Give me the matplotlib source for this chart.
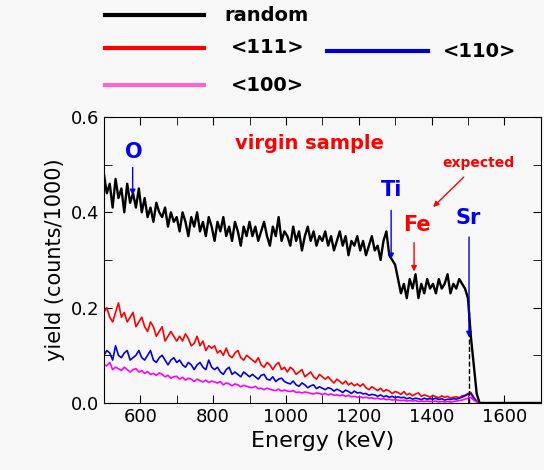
import matplotlib
matplotlib.use('Agg')
import matplotlib.pyplot as plt
from matplotlib.lines import Line2D
from matplotlib.ticker import MultipleLocator, FormatStrFormatter
import numpy as np

# energy channels (keV), 8 keV apart
energy = np.arange(500, 1701, 8)

random_y = [0.48, 0.44, 0.46, 0.41, 0.47, 0.43, 0.45, 0.40, 0.46, 0.42, 0.44, 0.41, 0.45,
            0.40, 0.43, 0.39, 0.41, 0.38, 0.42, 0.40, 0.39, 0.41, 0.37, 0.40, 0.38, 0.39,
            0.36, 0.40, 0.38, 0.35, 0.39, 0.37, 0.40, 0.36, 0.38, 0.35, 0.39, 0.37,
            0.34, 0.38, 0.36, 0.39, 0.35, 0.37, 0.34, 0.38, 0.36, 0.33, 0.37, 0.35, 0.38,
            0.35, 0.37, 0.34, 0.36, 0.38, 0.35, 0.33, 0.37, 0.35, 0.39, 0.34, 0.36,
            0.35, 0.33, 0.37, 0.34, 0.36, 0.32, 0.35, 0.37, 0.34, 0.36, 0.33, 0.35, 0.34,
            0.36, 0.33, 0.35, 0.32, 0.34, 0.36, 0.33, 0.35, 0.31, 0.34, 0.33, 0.35,
            0.32, 0.34, 0.31, 0.33, 0.35, 0.32, 0.33, 0.30, 0.34, 0.36, 0.31, 0.30, 0.29,
            0.26, 0.23, 0.25, 0.22, 0.26, 0.24, 0.27, 0.22, 0.25, 0.23, 0.26, 0.24,
            0.25, 0.23, 0.26, 0.24, 0.25, 0.27, 0.23, 0.25, 0.24, 0.26, 0.25, 0.24, 0.22,
            0.14, 0.08, 0.02, 0.0] + [0.0] * 21

ch111 = [0.19, 0.20, 0.18, 0.17, 0.19, 0.21, 0.18, 0.19, 0.17, 0.18, 0.19, 0.16, 0.17,
         0.18, 0.16, 0.15, 0.17, 0.16, 0.14, 0.15, 0.16, 0.13, 0.14, 0.15, 0.14, 0.13,
         0.14, 0.13, 0.145, 0.135, 0.12, 0.125, 0.14, 0.12, 0.13, 0.11, 0.12, 0.115,
         0.12, 0.105, 0.11, 0.10, 0.115, 0.10, 0.095, 0.105, 0.11, 0.095, 0.09, 0.10, 0.095,
         0.09, 0.085, 0.095, 0.08, 0.075, 0.085, 0.08, 0.07, 0.08, 0.085, 0.07, 0.075,
         0.065, 0.075, 0.07, 0.06, 0.065, 0.07, 0.055, 0.06, 0.065, 0.055, 0.05, 0.06, 0.055,
         0.05, 0.055, 0.048, 0.042, 0.05, 0.045, 0.04, 0.046, 0.038, 0.042, 0.036, 0.04,
         0.035, 0.04, 0.032, 0.028, 0.034, 0.03, 0.026, 0.031, 0.024, 0.028, 0.025, 0.02, 0.024,
         0.022, 0.018, 0.024, 0.017, 0.02, 0.015, 0.019, 0.021, 0.014, 0.017, 0.015, 0.012,
         0.016, 0.013, 0.011, 0.015, 0.012, 0.014, 0.01, 0.012, 0.013, 0.011, 0.015, 0.016, 0.02,
         0.022, 0.012, 0.004, 0.0] + [0.0] * 21

ch110 = [0.10, 0.11, 0.105, 0.09, 0.12, 0.10, 0.095, 0.105, 0.11, 0.09, 0.095, 0.10, 0.11,
         0.095, 0.09, 0.10, 0.11, 0.09, 0.085, 0.095, 0.10, 0.09, 0.08, 0.09, 0.095, 0.085,
         0.09, 0.08, 0.075, 0.085, 0.08, 0.07, 0.08, 0.085, 0.075, 0.07, 0.09, 0.075,
         0.07, 0.075, 0.065, 0.06, 0.07, 0.075, 0.06, 0.065, 0.06, 0.055, 0.065, 0.06, 0.055,
         0.06, 0.055, 0.05, 0.058, 0.06, 0.05, 0.048, 0.055, 0.045, 0.05, 0.052, 0.045,
         0.042, 0.04, 0.046, 0.038, 0.035, 0.042, 0.038, 0.032, 0.036, 0.038, 0.03, 0.034, 0.031,
         0.028, 0.032, 0.03, 0.025, 0.029, 0.026, 0.022, 0.027, 0.024, 0.02, 0.025, 0.021,
         0.022, 0.019, 0.02, 0.016, 0.018, 0.017, 0.014, 0.017, 0.013, 0.015, 0.012, 0.014, 0.011,
         0.013, 0.011, 0.012, 0.009, 0.011, 0.008, 0.01, 0.009, 0.007, 0.01, 0.008, 0.009,
         0.008, 0.01, 0.007, 0.009, 0.006, 0.008, 0.007, 0.009, 0.008, 0.01, 0.012, 0.015, 0.018,
         0.02, 0.01, 0.003, 0.0] + [0.0] * 21

ch100 = [0.08, 0.078, 0.085, 0.07, 0.075, 0.072, 0.068, 0.075, 0.07, 0.065, 0.07, 0.072, 0.065,
         0.068, 0.062, 0.066, 0.06, 0.062, 0.058, 0.063, 0.06, 0.055, 0.058, 0.052, 0.055, 0.056,
         0.05, 0.054, 0.048, 0.052, 0.05, 0.045, 0.05, 0.047, 0.044, 0.048, 0.043, 0.046,
         0.044, 0.042, 0.045, 0.038, 0.042, 0.04, 0.036, 0.04, 0.038, 0.034, 0.037, 0.035, 0.033,
         0.032, 0.035, 0.03, 0.031, 0.028, 0.031, 0.029, 0.027, 0.026, 0.029, 0.025, 0.027,
         0.025, 0.024, 0.026, 0.022, 0.023, 0.021, 0.023, 0.022, 0.02, 0.019, 0.021, 0.02, 0.018,
         0.02, 0.017, 0.019, 0.016, 0.017, 0.015, 0.017, 0.014, 0.016, 0.013, 0.014, 0.012,
         0.013, 0.011, 0.012, 0.01, 0.011, 0.009, 0.01, 0.008, 0.009, 0.007, 0.008, 0.006, 0.007,
         0.006, 0.005, 0.006, 0.004, 0.005, 0.004, 0.005, 0.003, 0.004, 0.003, 0.004, 0.003,
         0.003, 0.004, 0.002, 0.003, 0.002, 0.003, 0.002, 0.003, 0.004, 0.005, 0.006, 0.008, 0.01,
         0.012, 0.006, 0.002, 0.0] + [0.0] * 21

bg = '#f8f8f8'
fig = plt.figure(figsize=(5.44, 4.70), dpi=100, facecolor=bg)
ax = fig.add_axes([0.191, 0.1426, 0.803, 0.6085], facecolor=bg)

ax.plot(energy, ch111, color='#ff0000', lw=1.2)
ax.plot(energy, ch110, color='#0000ee', lw=1.2)
ax.plot(energy, ch100, color='#ff00ff', lw=1.2)
ax.plot(energy, random_y, color='black', lw=1.7)

ax.set_xlim(500, 1700)
ax.set_ylim(0, 0.6)
ax.set_xticks([600, 800, 1000, 1200, 1400, 1600])
ax.xaxis.set_minor_locator(MultipleLocator(100))
ax.set_yticks([0.0, 0.2, 0.4, 0.6])
ax.yaxis.set_minor_locator(MultipleLocator(0.1))
ax.yaxis.set_major_formatter(FormatStrFormatter('%.1f'))
ax.tick_params(which='both', direction='in', top=True, right=True, labelsize=13, length=6)
ax.set_xlabel('Energy (keV)', fontsize=16)
ax.set_ylabel('yield (counts/1000)', fontsize=15)

# annotations
ax.text(1064, 0.545, 'virgin sample', color='red', fontsize=14, fontweight='bold',
        ha='center', va='center')
ax.text(583, 0.527, 'O', color='#0000ee', fontsize=15, fontweight='bold', ha='center', va='center')
ax.annotate('', xy=(579, 0.43), xytext=(579, 0.50),
            arrowprops=dict(arrowstyle='-|>', color='#0000ee', lw=1, mutation_scale=8))
ax.text(1289, 0.447, 'Ti', color='#0000ee', fontsize=15, fontweight='bold', ha='center', va='center')
ax.annotate('', xy=(1289, 0.296), xytext=(1289, 0.41),
            arrowprops=dict(arrowstyle='-|>', color='#0000ee', lw=1, mutation_scale=8))
ax.text(1360, 0.373, 'Fe', color='red', fontsize=15, fontweight='bold', ha='center', va='center')
ax.annotate('', xy=(1352, 0.27), xytext=(1352, 0.342),
            arrowprops=dict(arrowstyle='-|>', color='red', lw=1, mutation_scale=8))
ax.text(1530, 0.503, 'expected', color='red', fontsize=10, fontweight='bold', ha='center', va='center')
ax.annotate('', xy=(1399, 0.407), xytext=(1494, 0.478),
            arrowprops=dict(arrowstyle='-|>', color='red', lw=1, mutation_scale=8))
ax.text(1500, 0.388, 'Sr', color='#0000ee', fontsize=15, fontweight='bold', ha='center', va='center')
ax.annotate('', xy=(1503, 0.132), xytext=(1503, 0.354),
            arrowprops=dict(arrowstyle='-|>', color='#0000ee', lw=1, mutation_scale=8))
ax.plot([1503, 1503], [0, 0.19], color='black', lw=1, ls='--')

# legend drawn in figure coordinates
legend_items = [('random', 'black', 0.193, 0.375, 0.968, 0.038),
                ('<111>', '#ff0000', 0.193, 0.375, 0.898, 0.05),
                ('<100>', '#ff66cc', 0.193, 0.375, 0.819, 0.05),
                ('<110>', '#0000cc', 0.601, 0.787, 0.891, 0.027)]
for label, col, x0, x1, yy, gap in legend_items:
    fig.add_artist(Line2D([x0, x1], [yy, yy], color=col, lw=3, transform=fig.transFigure))
    fig.text(x1 + gap, yy, label, fontsize=14, fontweight='bold', va='center', ha='left')

fig.savefig('out.png', dpi=100, facecolor=bg)
